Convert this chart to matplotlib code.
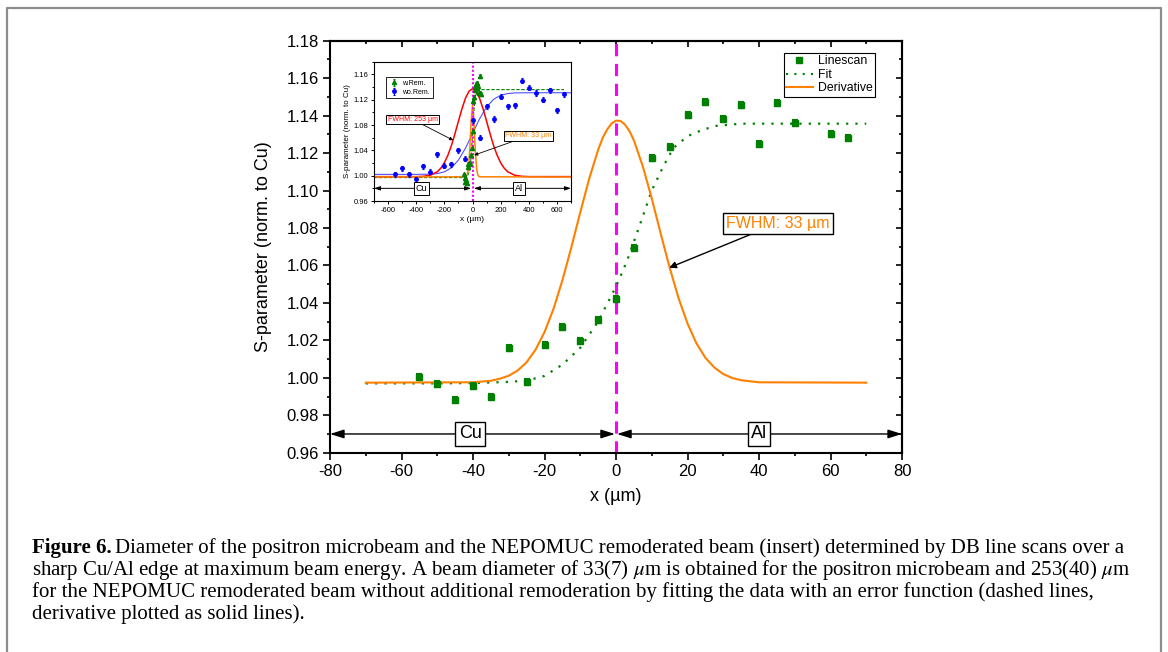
import matplotlib.pyplot as plt
from matplotlib.lines import Line2D
from matplotlib.ticker import MultipleLocator, FormatStrFormatter

plt.rcParams['font.family'] = ['Liberation Sans', 'DejaVu Sans']
plt.rcParams['mathtext.fontset'] = 'stix'
plt.rcParams['axes.unicode_minus'] = False

# ---------------- main panel data (microbeam line scan) ----------------
scan_x = [-55, -50, -45, -40, -35, -30, -25, -20, -15, -10, -5, 0,
          5, 10, 15, 20, 25, 30, 35, 40, 45, 50, 60, 65]
scan_s = [1.0004, 0.9967, 0.9880, 0.9956, 0.9897, 1.0159, 0.9978, 1.0175,
          1.0271, 1.0195, 1.0309, 1.0421, 1.0693, 1.1175, 1.1234, 1.1402,
          1.1473, 1.1384, 1.1455, 1.1247, 1.1466, 1.1359, 1.1303, 1.1282]
scan_err = [0.0015, 0.0015, 0.0015, 0.0015, 0.0015, 0.0015, 0.0015, 0.0015,
            0.0015, 0.0015, 0.0015, 0.0015, 0.0015, 0.0015, 0.0015, 0.0015,
            0.0015, 0.0015, 0.0015, 0.0015, 0.0015, 0.0015, 0.0015, 0.0015]

fit_x = [-70, -60, -50, -40, -30, -25, -20, -15, -10, -5, 0, 3, 6, 10,
         13, 16, 20, 24, 28, 35, 45, 70]
fit_s = [0.9970, 0.9970, 0.9970, 0.9972, 0.9978, 0.9985, 1.0010, 1.0070,
         1.0160, 1.0300, 1.0487, 1.0620, 1.0780, 1.1000, 1.1120, 1.1226,
         1.1290, 1.1323, 1.1345, 1.1357, 1.1357, 1.1357]

der_x = [-70, -40, -35, -32.5, -30, -27.5, -25, -22.5, -20, -17.5, -15,
         -12.5, -10, -7.5, -5, -3.75, -2.5, -1.25, 0, 1.25, 2.5, 3.75, 5,
         7.5, 10, 12.5, 15, 17.5, 20, 22.5, 25, 27.5, 30, 32.5, 35, 40, 70]
der_s = [0.9974, 0.9976, 0.9984, 0.9995, 1.0011, 1.0039, 1.0083, 1.0150,
         1.0244, 1.0367, 1.0520, 1.0696, 1.0883, 1.1063, 1.1217, 1.1280,
         1.1325, 1.1358, 1.1373, 1.1372, 1.1352, 1.1318, 1.1268,
         1.1129, 1.0958, 1.0770, 1.0589, 1.0425, 1.0290, 1.0184, 1.0107,
         1.0055, 1.0020, 0.9999, 0.9987, 0.9976, 0.9974]

# ---------------- inset data (NEPOMUC remoderated beam) ----------------
rem_x = [-60, -55, -50, -45, -40, -35, -30, -25, -20, -10, -5, 0, 5, 10,
         15, 20, 25, 30, 35, 40, 45, 50, 55, 60]
rem_s = [1.002, 0.996, 0.990, 0.993, 0.989, 1.019, 1.013, 1.018, 1.020,
         1.032, 1.043, 1.071, 1.118, 1.124, 1.135, 1.140, 1.145, 1.146,
         1.138, 1.142, 1.130, 1.157, 1.131, 1.129]
rem_err = [0.003, 0.003, 0.003, 0.003, 0.003, 0.003, 0.003, 0.003, 0.003,
           0.003, 0.003, 0.003, 0.003, 0.003, 0.003, 0.003, 0.003, 0.003,
           0.003, 0.003, 0.003, 0.003, 0.003, 0.003]

worem_x = [-550, -500, -450, -400, -350, -300, -250, -200, -150, -100, -50,
           0, 50, 100, 150, 200, 250, 300, 350, 400, 450, 500, 550, 600, 650]
worem_s = [1.0025, 1.0114, 1.0025, 0.9945, 1.0145, 1.0060, 1.0340, 1.0160,
           1.0180, 1.0400, 1.0267, 1.0876, 1.0597, 1.1096, 1.0895, 1.1250,
           1.1096, 1.1110, 1.1500, 1.1390, 1.1306, 1.1200, 1.1348, 1.1033,
           1.1285]
worem_err = [0.004, 0.004, 0.004, 0.004, 0.004, 0.004, 0.004, 0.004, 0.004,
             0.004, 0.004, 0.004, 0.004, 0.004, 0.004, 0.004, 0.004, 0.004,
             0.004, 0.004, 0.004, 0.004, 0.004, 0.004, 0.004]

blue_fit_x = [-700, -500, -400, -300, -250, -200, -150, -100, -50, 0, 50,
              100, 150, 200, 250, 300, 400, 700]
blue_fit_s = [1.0020, 1.0020, 1.0021, 1.0023, 1.0033, 1.0060, 1.0124, 1.0246,
              1.0433, 1.0665, 1.0897, 1.1084, 1.1206, 1.1270, 1.1297, 1.1307,
              1.1310, 1.1310]

green_fit_x = [-700, -60, -40, -20, -10, 0, 10, 20, 40, 60, 650]
green_fit_s = [0.9970, 0.9970, 0.9974, 1.0076, 1.0300, 1.0665, 1.1030,
               1.1254, 1.1356, 1.1359, 1.1359]

red_x = [-700, -400, -350, -300, -250, -225, -200, -175, -150, -125, -100,
         -75, -50, -25, 0, 25, 50, 75, 100, 125, 150, 175, 200, 225, 250,
         300, 350, 400, 700]
red_s = [0.9985, 0.9985, 0.9990, 1.0007, 1.0062, 1.0119, 1.0203, 1.0323,
         1.0475, 1.0660, 1.0860, 1.1056, 1.1223, 1.1334, 1.1374, 1.1334,
         1.1223, 1.1056, 1.0860, 1.0660, 1.0475, 1.0323, 1.0203, 1.0119,
         1.0062, 1.0007, 0.9990, 0.9985, 0.9985]

narrow_x = [-700, -50, -40, -30, -20, -10, 0, 10, 20, 30, 40, 50, 700]
narrow_s = [0.9980, 0.9982, 0.9999, 1.0093, 1.0387, 1.0856, 1.1110, 1.0856,
            1.0387, 1.0093, 0.9999, 0.9982, 0.9980]

green = '#008000'
orange = '#ff8000'
magenta = '#ff00ff'
W, H = 1168, 652

fig = plt.figure(figsize=(W / 100, H / 100), dpi=100)

# ======================= main panel =======================
ax = fig.add_axes([330 / W, 1 - 452.7 / H, 572 / W, 412 / H])
ax.set_xlim(-80, 80)
ax.set_ylim(0.96, 1.18)

ax.axvline(0, color=magenta, lw=2.2, ls=(0, (4, 2.5)), zorder=1)
ax.plot(fit_x, fit_s, color=green, lw=1.6, ls=(0, (1, 3.2)), zorder=2)
ax.plot(der_x, der_s, color=orange, lw=1.5, zorder=2)
ax.errorbar(scan_x, scan_s, yerr=scan_err, fmt='s', color=green, ms=4,
            capsize=2.5, elinewidth=1.5, capthick=1.5, zorder=3)

# material regions
arrow_kw = dict(arrowstyle='<|-|>,head_length=0.7,head_width=0.22',
                color='black', lw=1, shrinkA=0, shrinkB=0, mutation_scale=12)
ax.annotate('', xy=(-80, 0.97), xytext=(-0.3, 0.97), arrowprops=arrow_kw)
ax.annotate('', xy=(0.3, 0.97), xytext=(80, 0.97), arrowprops=arrow_kw)
box_kw = dict(boxstyle='square,pad=0.18', fc='white', ec='black', lw=1)
ax.text(-40.8, 0.97, 'Cu', fontsize=13, ha='center', va='center', bbox=box_kw, zorder=4)
ax.text(40, 0.97, 'Al', fontsize=13, ha='center', va='center', bbox=box_kw, zorder=4)

ax.annotate('FWHM: 33 µm', xy=(14.9, 1.0588), xytext=(45.3, 1.0825),
            ha='center', va='center', color=orange, fontsize=11.5,
            bbox=dict(boxstyle='square,pad=0.2', fc='white', ec='black', lw=1),
            arrowprops=dict(arrowstyle='-|>', color='black', lw=1,
                            shrinkA=0, shrinkB=0, mutation_scale=10))

ax.xaxis.set_major_locator(MultipleLocator(20))
ax.xaxis.set_minor_locator(MultipleLocator(10))
ax.yaxis.set_major_locator(MultipleLocator(0.02))
ax.yaxis.set_minor_locator(MultipleLocator(0.01))
ax.yaxis.set_major_formatter(FormatStrFormatter('%.2f'))
ax.tick_params(which='major', direction='out', length=5, width=1.2,
               labelsize=12, pad=3)
ax.tick_params(which='minor', direction='out', length=2.5, width=1.2)
for s in ax.spines.values():
    s.set_linewidth(1.5)

sec_x = ax.secondary_xaxis('top')
sec_x.xaxis.set_major_locator(MultipleLocator(20))
sec_x.xaxis.set_minor_locator(MultipleLocator(10))
sec_x.tick_params(which='both', direction='in', labeltop=False, width=1.2)
sec_x.tick_params(which='major', length=4)
sec_x.tick_params(which='minor', length=2.5)
sec_x.spines['top'].set_linewidth(1.5)
sec_y = ax.secondary_yaxis('right')
sec_y.yaxis.set_major_locator(MultipleLocator(0.02))
sec_y.yaxis.set_minor_locator(MultipleLocator(0.01))
sec_y.tick_params(which='both', direction='in', labelright=False, width=1.2)
sec_y.tick_params(which='major', length=4)
sec_y.tick_params(which='minor', length=2.5)
sec_y.spines['right'].set_linewidth(1.5)

ax.set_xlabel('x (µm)', fontsize=13, va='center')
ax.xaxis.set_label_coords(0.5, -0.1075)
ax.set_ylabel('S-parameter (norm. to Cu)', fontsize=13, va='center')
ax.yaxis.set_label_coords(-0.117, 0.5)

handles = [Line2D([], [], marker='s', color=green, ls='none', ms=4),
           Line2D([], [], color=green, lw=1.5, ls=(0, (1, 3))),
           Line2D([], [], color=orange, lw=1.5)]
leg = ax.legend(handles, ['Linescan', 'Fit', 'Derivative'], loc='upper right',
                bbox_to_anchor=((875 - 330) / 572, (452.7 - 53) / 412),
                borderaxespad=0, fontsize=8.8, fancybox=False, framealpha=1,
                edgecolor='black', borderpad=0.2, labelspacing=0.12,
                handlelength=2.2, handletextpad=0.4)
leg.get_frame().set_linewidth(0.8)

# ======================= inset =======================
axin = fig.add_axes([374 / W, 1 - 201 / H, 197 / W, 139.3 / H])
axin.set_xlim(-700, 700)
axin.set_ylim(0.96, 1.18)
axin.plot(blue_fit_x, blue_fit_s, color='#5050ff', lw=0.8, zorder=2)
axin.plot(green_fit_x, green_fit_s, color=green, lw=0.8, ls=(0, (3, 1.5)), zorder=2)
axin.plot(red_x, red_s, color='#ff0000', lw=1.1, zorder=2)
axin.plot(narrow_x, narrow_s, color=orange, lw=1.1, zorder=2)
axin.axvline(0, color=magenta, lw=1.5, ls=(0, (1, 1)), zorder=2)
axin.errorbar(worem_x, worem_s, yerr=worem_err, fmt='o', color='#0000ff', ms=2.5,
              capsize=1, elinewidth=0.8, capthick=0.8, zorder=3, label='wo.Rem.')
axin.errorbar(rem_x, rem_s, yerr=rem_err, fmt='^', color=green, ms=3,
              capsize=1, elinewidth=0.8, capthick=0.8, zorder=3, label='w.Rem.')

in_arrow = dict(arrowstyle='<|-|>,head_length=0.6,head_width=0.2',
                color='black', lw=0.7, shrinkA=0, shrinkB=0, mutation_scale=6)
axin.annotate('', xy=(-700, 0.98), xytext=(-10, 0.98), arrowprops=in_arrow)
axin.annotate('', xy=(10, 0.98), xytext=(700, 0.98), arrowprops=in_arrow)
in_box = dict(boxstyle='square,pad=0.2', fc='white', ec='black', lw=0.7)
axin.text(-362, 0.98, 'Cu', fontsize=6.5, ha='center', va='center', bbox=in_box, zorder=4)
axin.text(330, 0.98, 'Al', fontsize=6.5, ha='center', va='center', bbox=in_box, zorder=4)

small_arrow = dict(arrowstyle='-|>', color='black', lw=0.6, shrinkA=0,
                   shrinkB=0, mutation_scale=5)
axin.annotate('FWHM: 253 µm', xy=(-138, 1.056), xytext=(-425, 1.0888),
              ha='center', va='center', color='#ff0000', fontsize=5,
              bbox=in_box, arrowprops=small_arrow, zorder=5)
axin.annotate('FWHM: 33 µm', xy=(12, 1.0324), xytext=(396, 1.0627),
              ha='center', va='center', color=orange, fontsize=5,
              bbox=in_box, arrowprops=small_arrow, zorder=5)

axin.set_xticks([-600, -400, -200, 0, 200, 400, 600])
axin.xaxis.set_minor_locator(MultipleLocator(100))
axin.set_yticks([0.96, 1.00, 1.04, 1.08, 1.12, 1.16])
axin.yaxis.set_minor_locator(MultipleLocator(0.02))
axin.yaxis.set_major_formatter(FormatStrFormatter('%.2f'))
axin.tick_params(which='major', direction='out', length=2.5, width=0.7,
                 labelsize=5.5, pad=1.5)
axin.tick_params(which='minor', direction='out', length=1.3, width=0.7)
for s in axin.spines.values():
    s.set_linewidth(0.8)
axin.set_xlabel('x (µm)', fontsize=6, labelpad=2)
axin.set_ylabel('S-parameter (norm. to Cu)', fontsize=5.8, labelpad=2)
in_h, in_l = axin.get_legend_handles_labels()
lg = axin.legend(in_h[::-1], in_l[::-1], loc='upper left',
                 bbox_to_anchor=(0.061, 0.892), borderaxespad=0, fontsize=5,
                 fancybox=False, framealpha=1, edgecolor='black',
                 borderpad=0.4, labelspacing=0.3, handlelength=1.5,
                 handletextpad=0.4)
lg.get_frame().set_linewidth(0.6)

# ======================= frame and caption =======================
fig.add_artist(Line2D([7 / W, 7 / W, 1161 / W, 1161 / W],
                      [0, 1 - 8 / H, 1 - 8 / H, 0],
                      color='#8c8c8c', lw=1.6))

cap_font = dict(family=['Liberation Serif', 'DejaVu Serif'], fontsize=15,
                va='baseline', ha='left')
lines = ['Diameter of the positron microbeam and the NEPOMUC remoderated beam '
         '(insert) determined by DB line scans over a',
         'sharp Cu/Al edge at maximum beam energy. A beam diameter of 33(7) '
         r'$\mu$m is obtained for the positron microbeam and 253(40) $\mu$m',
         'for the NEPOMUC remoderated beam without additional remoderation by '
         'fitting the data with an error function (dashed lines,',
         'derivative plotted as solid lines).']
baselines = [553, 575, 597, 619]

head = fig.text(32 / W, 1 - baselines[0] / H, 'Figure 6.', weight='bold', **cap_font)
renderer = fig.canvas.get_renderer()
bb = head.get_window_extent(renderer)
fig.text((bb.x1 + 3) / W, 1 - baselines[0] / H, lines[0], **cap_font)
for txt, yb in zip(lines[1:], baselines[1:]):
    fig.text(32 / W, 1 - yb / H, txt, **cap_font)

fig.savefig('out.png', dpi=100)
